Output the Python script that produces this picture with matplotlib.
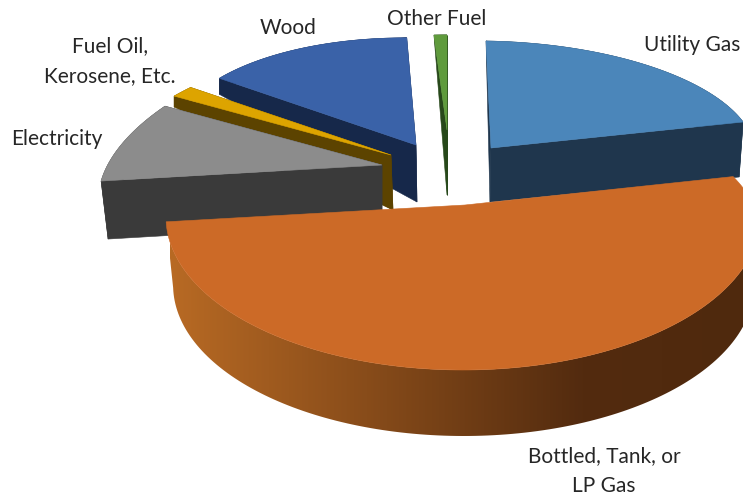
"""Exploded 3D pie of home heating fuel shares, projected by hand."""
import numpy as np
import matplotlib
matplotlib.use("Agg")
import matplotlib.pyplot as plt
from matplotlib.colors import LinearSegmentedColormap
from matplotlib.patches import Polygon

categories = ["Utility Gas", "Bottled, Tank, or\nLP Gas", "Electricity",
              "Fuel Oil,\nKerosene, Etc.", "Wood", "Other Fuel"]
shares = [20.5, 54.0, 8.9, 1.4, 14.4, 0.8]

top_colors = ["#4B86BA", "#CC6A27", "#8C8C8C", "#DDA400", "#3A62A8", "#5F9B3C"]
wall_colors = ["#1F364D", "#522A0E", "#3A3A3A", "#5C4300", "#16284A", "#27481A"]

# slice frames: centre x/y, x radius, y radius, x skew, y skew, perspective
frames = [
    (491, 148, 264, 107, -5, 4.0, 0.0),
    (463, 217, 297, 153, 0, 0.0, 0.2),
    (382, 165, 279.5, 137, 48.6, -11.75, 0.0),
    (391, 155, 277, 117, 44.6, 0.0, 0.0),
    (416, 145, 243, 107, 3, 6.0, 0.0),
    (447, 130, 260, 95, 0, 0.0, 0.0),
]
apexes = [(491, 148), (465, 205), (382, 165), (391, 155), (416, 145), (447, 130)]
# wall depth at apex/start/end and sideways drift at apex/start/end
walls = [
    (54, 0, 55, -1, 0, -4),
    (0, 66, 66, 0, -7, 7),
    (58, 58, 0, 0, 7, 0),
    (55, 11, 11, 2, 0, 0),
    (57, 16, 0, 1, 0, 0),
    (65, 0, 0, 0, 0, 0),
]
draw_order = [4, 3, 2, 0, 5, 1]

label_pos = [(692, 45), (604, 471), (57, 139), (110, 61), (288, 28), (437, 19)]


def project(theta, frame):
    cx, cy, a, b, sx, sy, k = frame
    u, v = np.sin(theta), np.cos(theta)
    s = 1 / (1 + k * np.maximum(v, 0))
    return cx + s * a * u + sx * v, cy - s * b * v + sy * u


fig = plt.figure(figsize=(7.43, 4.98), dpi=100, facecolor="white")
ax = fig.add_axes([0, 0, 1, 1])
ax.set_xlim(0, 743)
ax.set_ylim(498, 0)
ax.axis("off")

edges = np.cumsum([0] + shares) / sum(shares) * 2 * np.pi
orange_fade = LinearSegmentedColormap.from_list(
    "wall", [(0, "#B86A24"), (0.72, "#532B0F"), (1, "#4F290D")])

for order, i in enumerate(draw_order):
    frame = frames[i]
    d_apex, d_start, d_end, x_apex, x_start, x_end = walls[i]
    cx, cy = apexes[i]
    th = np.linspace(edges[i], edges[i + 1], 160)
    x, y = project(th, frame)
    f = np.linspace(0, 1, th.size)
    xb = x + x_start + (x_end - x_start) * f
    yb = y + d_start + (d_end - d_start) * f
    ax_b, ay_b = cx + x_apex, cy + d_apex
    z = 2 + order * 3

    # side walls along both cut edges
    if not categories[i].startswith("Bottled"):
        for j in (0, -1):
            ax.add_patch(Polygon([(x[j], y[j]), (cx, cy), (ax_b, ay_b), (xb[j], yb[j])],
                                 fc=wall_colors[i], ec=wall_colors[i], lw=0.4, zorder=z))

    rim = np.column_stack([np.r_[x, xb[::-1]], np.r_[y, yb[::-1]]])
    if categories[i].startswith("Bottled"):
        # only the front stretch of the rim shows, shaded left to right
        front = np.cos(th) < 0.05
        rim = np.column_stack([np.r_[x[front], xb[front][::-1]],
                               np.r_[y[front], yb[front][::-1]]])
        patch = Polygon(rim, fc="none", ec="none", zorder=z + 1)
        ax.add_patch(patch)
        grad = np.linspace(0, 1, 256).reshape(1, -1)
        im = ax.imshow(grad, extent=(170, 743, 498, 0), cmap=orange_fade,
                       aspect="auto", zorder=z + 1)
        im.set_clip_path(patch)
        ax.set_xlim(0, 743)
        ax.set_ylim(498, 0)
    else:
        ax.add_patch(Polygon(rim, fc=wall_colors[i], ec=wall_colors[i], lw=0.4, zorder=z + 1))

    face = np.column_stack([np.r_[cx, x], np.r_[cy, y]])
    ax.add_patch(Polygon(face, fc=top_colors[i], ec=top_colors[i], lw=0.4, zorder=z + 2))

for name, (lx, ly) in zip(categories, label_pos):
    ax.text(lx, ly, name, ha="center", va="center", fontsize=15,
            family="Lato", color="#262626", linespacing=1.63, zorder=40)

fig.savefig("out.png", dpi=100, facecolor="white")
plt.close(fig)
